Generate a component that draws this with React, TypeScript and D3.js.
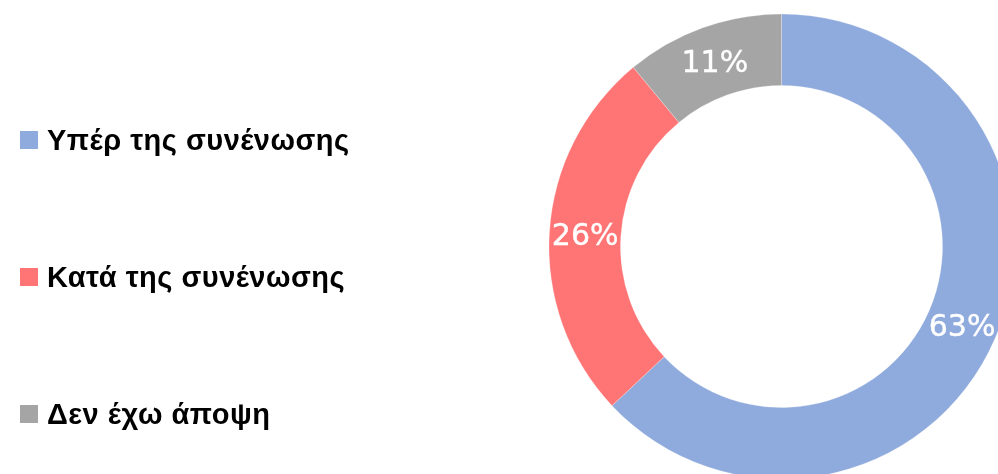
import React, { useEffect, useRef } from "react";
import * as d3 from "d3";

const categories = ["Υπέρ της συνένωσης", "Κατά της συνένωσης", "Δεν έχω άποψη"];
const values = [63, 26, 11];
const colors = ["#8FAADC", "#FF7575", "#A5A5A5"];

export default function App() {
  const ref = useRef<SVGSVGElement>(null);

  useEffect(() => {
    const svg = d3.select(ref.current);
    svg.selectAll("*").remove();

    const width = 998;
    const height = 474;
    const cx = 781.5;
    const cy = 246.5;
    const outer = 232.5;
    const inner = 161;

    const data = categories.map((c, i) => ({ name: c, value: values[i], color: colors[i] }));

    const pie = d3
      .pie<any>()
      .value((d) => d.value)
      .sort(null);
    const arc = d3.arc<any>().innerRadius(inner).outerRadius(outer);

    const g = svg.append("g").attr("transform", `translate(${cx},${cy})`);

    const arcs = pie(data);
    g.selectAll("path")
      .data(arcs)
      .enter()
      .append("path")
      .attr("d", arc)
      .attr("fill", (d) => d.data.color)
      .attr("stroke", "#fff")
      .attr("stroke-opacity", 0.5)
      .attr("stroke-width", 0.5);

    // percentage labels in the ring
    g.selectAll("text")
      .data(arcs)
      .enter()
      .append("text")
      .attr("transform", (d) => `translate(${arc.centroid(d)})`)
      .attr("text-anchor", "middle")
      .attr("dy", "0.37em")
      .style("font-family", "'DejaVu Sans', sans-serif")
      .style("font-size", "30px")
      .style("fill", "#fff")
      .style("stroke", "#fff")
      .style("stroke-width", 0.4)
      .text((d) => `${d.data.value}%`);

    const legendY = d3.scalePoint<string>().domain(categories).range([140, 414]);

    const legend = svg
      .selectAll(".legend")
      .data(data)
      .enter()
      .append("g")
      .attr("class", "legend")
      .attr("transform", (d) => `translate(20,${legendY(d.name)})`);

    legend
      .append("rect")
      .attr("x", 0)
      .attr("y", -9)
      .attr("width", 18)
      .attr("height", 18)
      .attr("fill", (d) => d.color);

    legend
      .append("text")
      .attr("x", 27)
      .attr("y", 0)
      .attr("dy", "0.35em")
      .style("font-family", "'Liberation Sans', Arial, sans-serif")
      .style("font-size", "29px")
      .style("font-weight", "bold")
      .style("letter-spacing", "0.5px")
      .style("fill", "#000")
      .text((d) => d.name);

    svg.attr("width", width).attr("height", height);
  }, []);

  return (
    <div style={{ position: "fixed", left: 0, top: 0 }}>
      <svg ref={ref} style={{ display: "block" }}></svg>
    </div>
  );
}
